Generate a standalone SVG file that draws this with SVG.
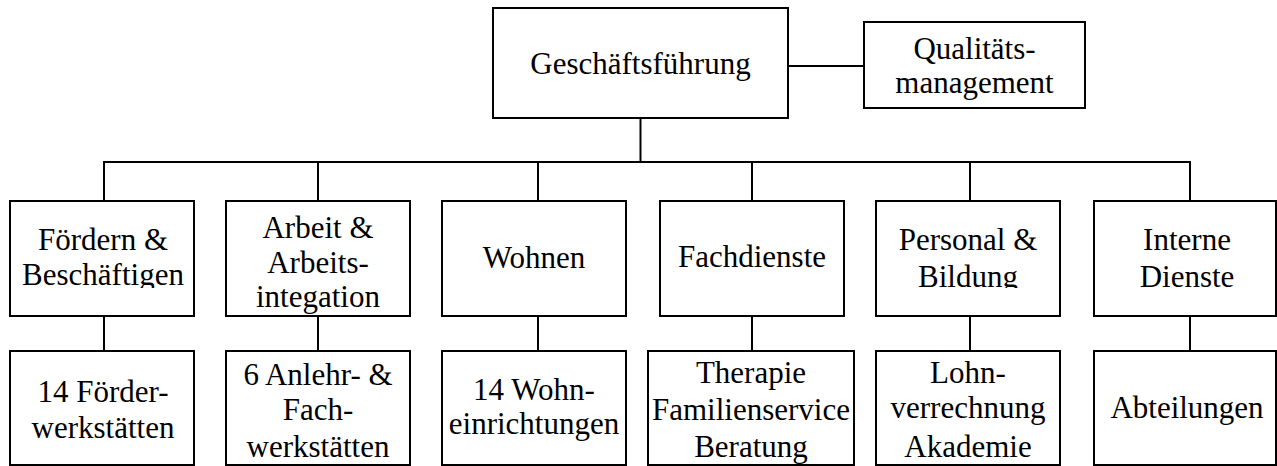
<svg xmlns="http://www.w3.org/2000/svg" width="1277" height="466" viewBox="0 0 1277 466">
<style>
.box{fill:#fff;stroke:#000;stroke-width:2}
.ln{fill:none;stroke:#000;stroke-width:2}
text{font-family:"Liberation Serif","Times New Roman",serif;font-size:31px;fill:#000;text-anchor:middle}
</style>
<defs>
<clipPath id="clipA"><rect x="0" y="190" width="1277" height="98"/></clipPath>
</defs>
<rect width="1277" height="466" fill="#fff"/>
<g id="connectors">
<line class="ln" x1="788" y1="66" x2="864" y2="66"/>
<line class="ln" x1="640.5" y1="118" x2="640.5" y2="162"/>
<polyline class="ln" points="104,201 104,162 1190,162 1190,201"/>
<line class="ln" x1="318" y1="162" x2="318" y2="201"/>
<line class="ln" x1="538" y1="162" x2="538" y2="201"/>
<line class="ln" x1="752" y1="162" x2="752" y2="201"/>
<line class="ln" x1="970" y1="162" x2="970" y2="201"/>
<line class="ln" x1="104" y1="316" x2="104" y2="351"/>
<line class="ln" x1="318" y1="316" x2="318" y2="351"/>
<line class="ln" x1="538" y1="316" x2="538" y2="351"/>
<line class="ln" x1="752" y1="316" x2="752" y2="351"/>
<line class="ln" x1="970" y1="316" x2="970" y2="351"/>
<line class="ln" x1="1190" y1="316" x2="1190" y2="351"/>
</g>
<g id="gf"><rect class="box" x="493" y="8" width="295" height="110"/><text x="640.5" y="74">Geschäftsführung</text></g>
<g id="qm"><rect class="box" x="864" y="22" width="221" height="86"/><text x="974.5" y="59">Qualitäts-</text><text x="974.5" y="93">management</text></g>
<g id="foerdern"><rect class="box" x="10" y="201" width="184" height="115"/><g clip-path="url(#clipA)"><text x="103" y="250">Fördern &amp;</text><text x="103" y="284.5">Beschäftigen</text></g></g>
<g id="arbeit"><rect class="box" x="226" y="201" width="184" height="115" style="fill:none"/><text x="318" y="238">Arbeit &amp;</text><text x="318" y="272.7">Arbeits-</text><text x="318" y="307">integation</text><rect class="box" x="226" y="201" width="184" height="115" style="fill:none"/></g>
<g id="wohnen"><rect class="box" x="442" y="201" width="184" height="115"/><text x="534" y="268">Wohnen</text></g>
<g id="fachdienste"><rect class="box" x="660" y="201" width="184" height="115"/><text x="752" y="267">Fachdienste</text></g>
<g id="personal"><rect class="box" x="876" y="201" width="184" height="115"/><g clip-path="url(#clipA)"><text x="968" y="250">Personal &amp;</text><text x="968" y="286.5">Bildung</text></g></g>
<g id="interne"><rect class="box" x="1094" y="201" width="182" height="115"/><text x="1187" y="250">Interne</text><text x="1187" y="286.5">Dienste</text></g>
<g id="foerderwerk"><rect class="box" x="10" y="351" width="184" height="114"/><text x="103" y="401.5">14 Förder-</text><text x="103" y="438">werkstätten</text></g>
<g id="fachwerk"><rect class="box" x="226" y="351" width="184" height="114"/><text x="318" y="385">6 Anlehr- &amp;</text><text x="318" y="420">Fach-</text><text x="318" y="456.7">werkstätten</text></g>
<g id="wohneinr"><rect class="box" x="442" y="351" width="184" height="114"/><text x="534" y="399.5">14 Wohn-</text><text x="534" y="433.5">einrichtungen</text></g>
<g id="therapie"><rect class="box" x="648" y="351" width="206" height="114" style="fill:none"/><text x="751" y="383.3">Therapie</text><text x="751" y="420">Familienservice</text><text x="751" y="456.7">Beratung</text><rect class="box" x="648" y="351" width="206" height="114" style="fill:none"/></g>
<g id="lohn"><rect class="box" x="876" y="351" width="184" height="114"/><text x="968" y="383">Lohn-</text><text x="968" y="418">verrechnung</text><text x="968" y="456.7">Akademie</text></g>
<g id="abteilungen"><rect class="box" x="1094" y="351" width="182" height="114"/><text x="1187" y="418.3">Abteilungen</text></g>
</svg>
